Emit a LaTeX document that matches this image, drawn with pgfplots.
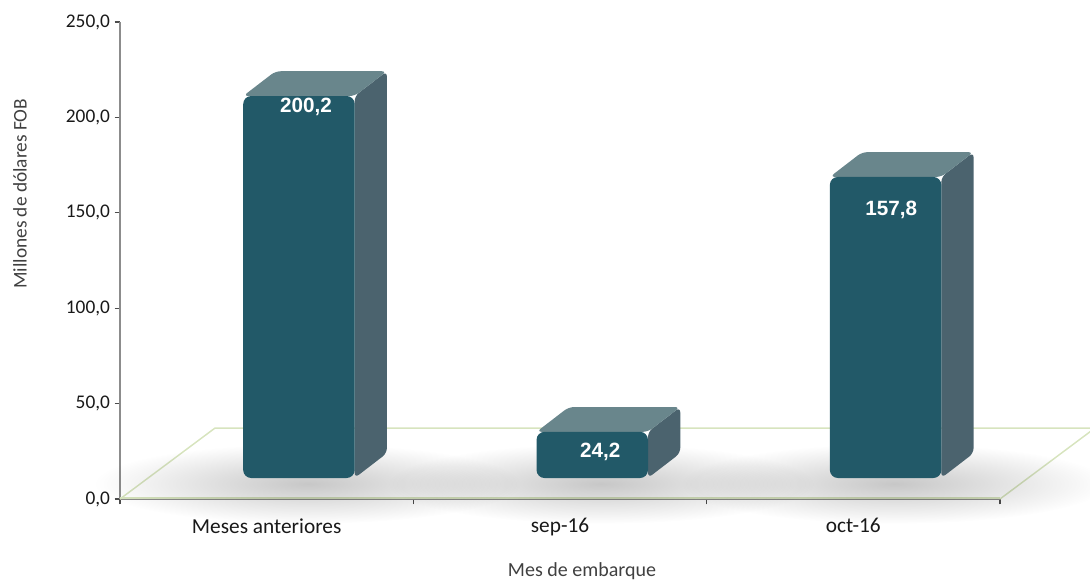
\documentclass[border=0pt]{standalone}
\usepackage{fontspec}
\setmainfont{Carlito}
\newfontfamily\arialfont{Liberation Sans}
\usepackage{pgfplots}
\pgfplotsset{compat=1.18}
\usetikzlibrary{fadings}

\definecolor{barfront}{RGB}{34,89,104}
\definecolor{barside}{RGB}{75,99,110}
\definecolor{bartop}{RGB}{105,134,140}
\definecolor{floorline}{RGB}{215,228,190}
\definecolor{axisgray}{RGB}{140,140,140}
\definecolor{titlegray}{RGB}{64,64,64}

\tikzfading[name=softshadow, inner color=transparent!0, outer color=transparent!100]

\begin{document}
\begin{tikzpicture}
\path[use as bounding box] (0,0) rectangle (817.5pt,439.5pt);
\begin{axis}[
    at={(90pt,65.25pt)}, anchor=south west,
    scale only axis,
    width=660pt, height=357.75pt,
    xmin=0, xmax=3, ymin=0, ymax=250,
    clip=false,
    axis lines*=left,
    axis line style={draw=axisgray, line width=1.6pt},
    tick align=outside,
    major tick length=4pt,
    major tick style={draw=black!70, line width=1pt},
    xtick={0,1,2,3}, xticklabels={},
    extra x ticks={0.5,1.5,2.5},
    extra x tick labels={Meses anteriores, sep-16, oct-16},
    extra x tick style={major tick length=0pt, tick label style={font=\fontsize{16}{18}\selectfont, text=black!90, yshift=-11pt}},
    ytick={0,50,100,150,200,250},
    yticklabel style={font=\fontsize{14.5}{16}\selectfont, text=black!90,
        /pgf/number format/.cd, fixed, fixed zerofill, precision=1, use comma, assume math mode=true},
    ylabel={Millones de dólares FOB},
    ylabel style={at={(axis description cs:-0.1136,0.64)}, anchor=center, rotate=0,
        font=\fontsize{14.5}{16}\selectfont, text=titlegray},
    xlabel={Mes de embarque},
    xlabel style={at={(axis description cs:0.525,-0.152)}, anchor=center,
        font=\fontsize{15}{17}\selectfont, text=titlegray},
]

% floor of the 3D plot
\addplot[draw=floorline, line width=1.1pt] coordinates {(0,0) (0.324,37.2) (3.324,37.2) (3,0)};
\addplot[draw=floorline, line width=1.1pt] coordinates {(0,0.6) (3,0.6)};

% soft shadows under bars
\fill[black, fill opacity=0.22, path fading=softshadow] (axis cs:0.64,8) ellipse [x radius=160pt, y radius=30pt];
\fill[black, fill opacity=0.22, path fading=softshadow] (axis cs:1.64,8) ellipse [x radius=160pt, y radius=30pt];
\fill[black, fill opacity=0.22, path fading=softshadow] (axis cs:2.64,8) ellipse [x radius=160pt, y radius=30pt];

% Meses anteriores: 200,2
\addplot[fill=barside, draw=none, rounded corners=4pt] coordinates {(0.80,11) (0.91,24) (0.91,224.2) (0.80,211.2)} -- cycle;
\addplot[fill=bartop, draw=none, rounded corners=4pt] coordinates {(0.42,211.2) (0.53,224.2) (0.91,224.2) (0.80,211.2)} -- cycle;
\addplot[fill=barfront, draw=none, rounded corners=6pt] coordinates {(0.42,11) (0.80,11) (0.80,211.2) (0.42,211.2)} -- cycle;

% sep-16: 24,2
\addplot[fill=barside, draw=none, rounded corners=4pt] coordinates {(1.80,11) (1.91,24) (1.91,48.2) (1.80,35.2)} -- cycle;
\addplot[fill=bartop, draw=none, rounded corners=4pt] coordinates {(1.42,35.2) (1.53,48.2) (1.91,48.2) (1.80,35.2)} -- cycle;
\addplot[fill=barfront, draw=none, rounded corners=6pt] coordinates {(1.42,11) (1.80,11) (1.80,35.2) (1.42,35.2)} -- cycle;

% oct-16: 157,8
\addplot[fill=barside, draw=none, rounded corners=4pt] coordinates {(2.80,11) (2.91,24) (2.91,181.8) (2.80,168.8)} -- cycle;
\addplot[fill=bartop, draw=none, rounded corners=4pt] coordinates {(2.42,168.8) (2.53,181.8) (2.91,181.8) (2.80,168.8)} -- cycle;
\addplot[fill=barfront, draw=none, rounded corners=6pt] coordinates {(2.42,11) (2.80,11) (2.80,168.8) (2.42,168.8)} -- cycle;

% value labels
\addplot[draw=none, nodes near coords, point meta=explicit symbolic,
    nodes near coords style={anchor=center, text=white, font=\arialfont\bfseries\fontsize{15.5}{17}\selectfont}]
    coordinates {(0.634,205.4)[200,2] (1.637,24.6)[24,2] (2.629,151.5)[157,8]};

\end{axis}
\end{tikzpicture}
\end{document}
